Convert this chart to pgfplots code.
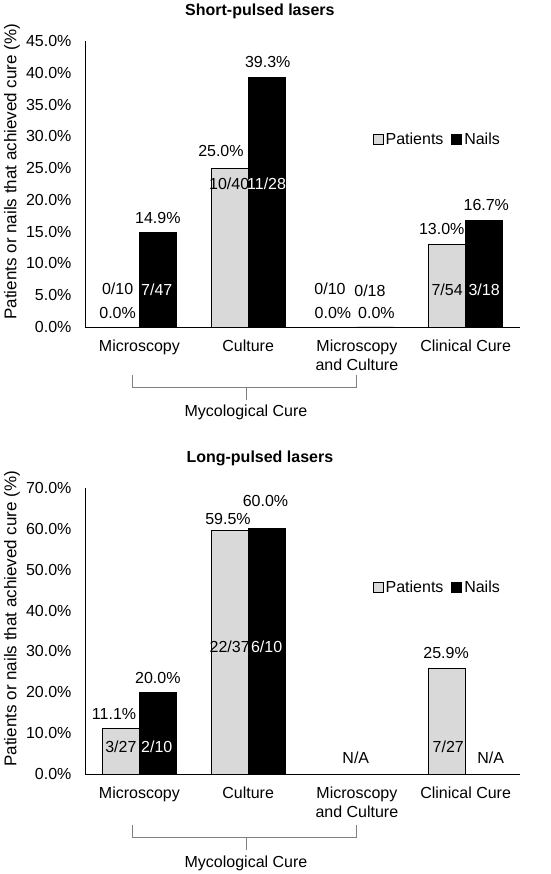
\documentclass[border=0pt]{standalone}
\usepackage{pgfplots}
\pgfplotsset{compat=1.18}
\usepackage{fontspec}
\setmainfont{Liberation Sans}
\newcommand\f{\fontsize{16}{19}\selectfont}
\definecolor{pat}{RGB}{217,217,217}
\definecolor{brk}{RGB}{128,128,128}
\pgfplotsset{
  myaxis/.style={
    scale only axis, width=435pt, height=286pt,
    anchor=south west,
    xmin=-0.5, xmax=3.5, ymin=0,
    axis lines=left,
    axis line style={-, black, line width=0.8pt},
    xtick={0,1,2,3},
    xticklabels={Microscopy,Culture,{Microscopy\\and Culture},Clinical Cure},
    xticklabel style={align=center, font=\f, yshift=-9pt},
    yticklabel style={font=\f, xshift=-10pt},
    yticklabel={\pgfmathprintnumber[assume math mode=true,fixed,fixed zerofill,precision=1]{\tick}\%},
    major tick length=0pt,
    ybar=0pt, bar width=37pt,
    legend image code/.code={\draw[##1] (0pt,-5pt) rectangle (10pt,5pt);},
    legend style={draw=none, fill=none, legend columns=2, font=\f,
      nodes={inner sep=2pt},
      /tikz/every even column/.append style={column sep=6pt}},
    ylabel={Patients or nails that achieved cure (\%)},
    ylabel style={font=\fontsize{17}{20}\selectfont, at={(axis description cs:0,0.543)}, anchor=center, yshift=73pt},
    title style={font=\f\bfseries, at={(axis description cs:0.402,1)}, anchor=center, yshift=24pt},
    clip=false,
  },
  patstyle/.style={draw=black, line width=0.8pt, fill=pat},
  nailstyle/.style={draw=black, line width=0.8pt, fill=black},
}
\begin{document}
\begin{tikzpicture}
\useasboundingbox (0pt,0pt) rectangle (550pt,874pt);
% ---------- Top chart ----------
\begin{axis}[myaxis, at={(85pt,547pt)}, ymax=45, ytick distance=5,
  title={Short-pulsed lasers},
  legend style={at={(rel axis cs:0.81,0.657)}, anchor=center}]
\addplot[patstyle] coordinates {(0,0) (1,25.0) (2,0) (3,13.0)};
\addplot[nailstyle] coordinates {(0,14.9) (1,39.3) (2,0) (3,16.7)};
\legend{Patients,Nails}
\node[font=\f] at (axis cs:-0.2,6.0) {0/10};
\node[font=\f] at (axis cs:-0.2,2.2) {0.0\%};
\node[font=\f] at (axis cs:0.17,17.1) {14.9\%};
\node[font=\f,text=white] at (axis cs:0.16,5.8) {7/47};
\node[font=\f] at (axis cs:0.75,27.7) {25.0\%};
\node[font=\f] at (axis cs:0.826,22.5) {10/40};
\node[font=\f] at (axis cs:1.18,41.7) {39.3\%};
\node[font=\f,text=white] at (axis cs:1.17,22.5) {11/28};
\node[font=\f] at (axis cs:1.753,6.0) {0/10};
\node[font=\f] at (axis cs:1.78,2.2) {0.0\%};
\node[font=\f] at (axis cs:2.12,5.7) {0/18};
\node[font=\f] at (axis cs:2.18,2.2) {0.0\%};
\node[font=\f] at (axis cs:2.78,15.4) {13.0\%};
\node[font=\f] at (axis cs:2.83,5.8) {7/54};
\node[font=\f] at (axis cs:3.19,19.2) {16.7\%};
\node[font=\f,text=white] at (axis cs:3.17,5.8) {3/18};
\end{axis}
\draw[brk, line width=0.8pt] (132pt,499pt) -- (132pt,487pt) -- (356pt,487pt) -- (356pt,499pt);
\draw[brk, line width=0.8pt] (246pt,487pt) -- (246pt,474pt);
\node[font=\f] at (246pt,462pt) {Mycological Cure};
% ---------- Bottom chart ----------
\begin{axis}[myaxis, at={(85pt,100pt)}, ymax=70, ytick distance=10,
  title={Long-pulsed lasers},
  legend style={at={(rel axis cs:0.81,0.653)}, anchor=center}]
\addplot[patstyle] coordinates {(0,11.1) (1,59.5) (3,25.9)};
\addplot[nailstyle] coordinates {(0,20.0) (1,60.0)};
\legend{Patients,Nails}
\node[font=\f] at (axis cs:-0.233,14.7) {11.1\%};
\node[font=\f] at (axis cs:-0.17,6.6) {3/27};
\node[font=\f] at (axis cs:0.17,23.6) {20.0\%};
\node[font=\f,text=white] at (axis cs:0.16,6.6) {2/10};
\node[font=\f] at (axis cs:0.815,62.4) {59.5\%};
\node[font=\f] at (axis cs:0.83,31.2) {22/37};
\node[font=\f] at (axis cs:1.16,66.8) {60.0\%};
\node[font=\f,text=white] at (axis cs:1.17,31.2) {6/10};
\node[font=\f] at (axis cs:1.99,3.9) {N/A};
\node[font=\f] at (axis cs:2.82,29.7) {25.9\%};
\node[font=\f] at (axis cs:2.84,6.6) {7/27};
\node[font=\f] at (axis cs:3.23,3.9) {N/A};
\end{axis}
\draw[brk, line width=0.8pt] (132pt,49pt) -- (132pt,37pt) -- (356pt,37pt) -- (356pt,49pt);
\draw[brk, line width=0.8pt] (246pt,37pt) -- (246pt,24pt);
\node[font=\f] at (246pt,11pt) {Mycological Cure};
\end{tikzpicture}
\end{document}
